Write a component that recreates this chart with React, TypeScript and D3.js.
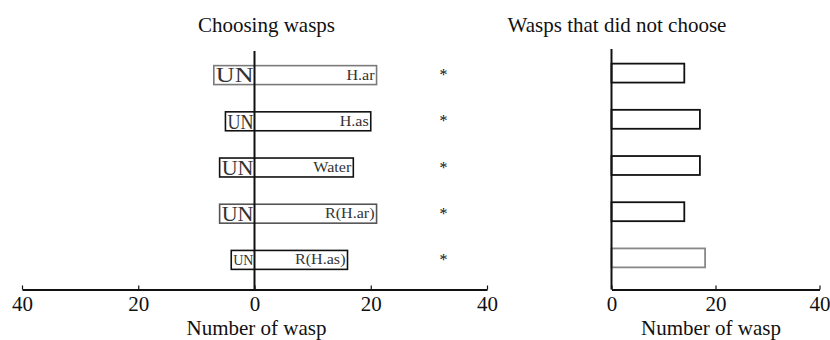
import React, { useEffect, useRef } from 'react';
import * as d3 from 'd3';

// values
const categories = ['H.ar', 'H.as', 'Water', 'R(H.ar)', 'R(H.as)'];
const unChosen = [7, 5, 6, 6, 4];
const chosen = [21, 20, 17, 21, 16];
const notChoosing = [14, 17, 17, 14, 18];
const significant = [true, true, true, true, true];
const leftTicks = [-40, -20, 0, 20, 40];
const rightTicks = [0, 20, 40];
const starAt = 32.5;

// outline shades, the scan renders some boxes lighter
const leftShade = ['#7a7a7a', '#111', '#111', '#555', '#111'];
const rightShade = ['#111', '#111', '#111', '#111', '#888'];

const FONT = "'Liberation Serif', 'Times New Roman', serif";

export default function App() {
  const ref = useRef<SVGSVGElement>(null);

  useEffect(() => {
    const svg = d3.select(ref.current);
    svg.selectAll('*').remove();

    const axisY = 289.5;

    const xl = d3.scaleLinear().domain([-40, 40]).range([22, 487]);
    const xr = d3.scaleLinear().domain([0, 40]).range([611.5, 819.5]);
    const yl = d3.scaleBand().domain(categories).range([52, 283])
      .paddingInner(0.59).paddingOuter(0.295);
    const yr = d3.scaleBand().domain(categories).range([50, 281])
      .paddingInner(0.59).paddingOuter(0.295);

    const g = svg.append('g').attr('font-family', FONT).attr('fill', '#111');

    // ---- left panel: choosing wasps
    const left = g.append('g');
    categories.forEach((c, i) => {
      const y0 = yl(c)!;
      const h = yl.bandwidth();
      const cy = y0 + h / 2;
      const x0 = xl(-unChosen[i]);
      const x1 = xl(chosen[i]);
      left.append('rect')
        .attr('x', x0).attr('y', y0)
        .attr('width', x1 - x0).attr('height', h)
        .attr('fill', 'white')
        .attr('stroke', leftShade[i]).attr('stroke-width', 1.6);

      const w = xl(0) - x0;
      left.append('text')
        .attr('x', x0 + 2).attr('y', cy + (w < 26 ? 5 : 7.2))
        .attr('font-size', w < 26 ? 15 : 21)
        .attr('textLength', w - 3)
        .attr('lengthAdjust', 'spacingAndGlyphs')
        .attr('fill', '#333')
        .text('UN');

      left.append('text')
        .attr('transform', `translate(${x1 - 2},${cy + 4.5}) scale(1.15,1)`)
        .attr('text-anchor', 'end')
        .attr('font-size', 14)
        .attr('fill', '#333')
        .text(c);

      if (significant[i]) {
        left.append('text')
          .attr('x', xl(starAt)).attr('y', cy + 5)
          .attr('text-anchor', 'middle')
          .attr('font-size', 16)
          .text('*');
      }
    });

    left.append('line')
      .attr('x1', xl(0)).attr('x2', xl(0))
      .attr('y1', 51).attr('y2', axisY)
      .attr('stroke', '#111').attr('stroke-width', 2);

    const axL = left.append('g')
      .attr('transform', `translate(0,${axisY})`)
      .call(d3.axisBottom(xl).tickValues(leftTicks)
        .tickFormat((d) => String(Math.abs(+d)))
        .tickSizeInner(-4).tickSizeOuter(0).tickPadding(6.5));

    left.append('text')
      .attr('x', 266.5).attr('y', 32)
      .attr('text-anchor', 'middle').attr('font-size', 21)
      .text('Choosing wasps');
    left.append('text')
      .attr('x', 256.5).attr('y', 335)
      .attr('text-anchor', 'middle').attr('font-size', 21)
      .text('Number of wasp');

    // ---- right panel: wasps that did not choose
    const right = g.append('g');
    categories.forEach((c, i) => {
      right.append('rect')
        .attr('x', xr(0)).attr('y', yr(c)!)
        .attr('width', xr(notChoosing[i]) - xr(0)).attr('height', yr.bandwidth())
        .attr('fill', 'white')
        .attr('stroke', rightShade[i]).attr('stroke-width', 1.8);
    });

    right.append('line')
      .attr('x1', xr(0)).attr('x2', xr(0))
      .attr('y1', 49).attr('y2', axisY)
      .attr('stroke', '#111').attr('stroke-width', 2);

    const axR = right.append('g')
      .attr('transform', `translate(0,${axisY})`)
      .call(d3.axisBottom(xr).tickValues(rightTicks)
        .tickFormat(d3.format('d'))
        .tickSizeInner(-4).tickSizeOuter(0).tickPadding(6.5));

    right.append('text')
      .attr('x', 617).attr('y', 32)
      .attr('text-anchor', 'middle').attr('font-size', 21)
      .text('Wasps that did not choose');
    right.append('text')
      .attr('x', 711).attr('y', 335)
      .attr('text-anchor', 'middle').attr('font-size', 21)
      .text('Number of wasp');

    [axL, axR].forEach((ax) => {
      ax.select('.domain').attr('stroke', '#111').attr('stroke-width', 2);
      ax.selectAll('.tick line').attr('stroke', '#111').attr('stroke-width', 1.2);
      ax.selectAll('.tick text')
        .attr('font-family', FONT).attr('font-size', 21).attr('fill', '#111');
    });
  }, []);

  return (
    <svg
      ref={ref}
      width={830}
      height={340}
      style={{ position: 'absolute', left: 0, top: 0, background: 'white' }}
    />
  );
}
